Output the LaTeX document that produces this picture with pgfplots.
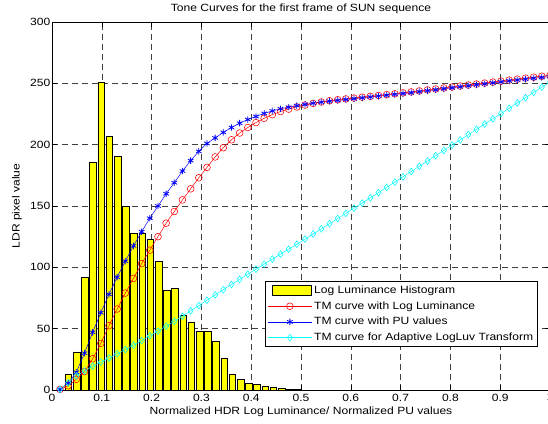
\documentclass[border=0pt]{standalone}
\usepackage{fontspec}
\setmainfont{Liberation Sans}[FakeStretch=1.15]
\usepackage{pgfplots}
\pgfplotsset{compat=1.18}
\definecolor{mred}{RGB}{255,0,0}
\definecolor{mblue}{RGB}{0,0,255}
\definecolor{mcyan}{RGB}{0,255,255}
\definecolor{myellow}{RGB}{255,255,0}
\pgfplotsset{
  linelegend/.style={legend image code/.code={\draw[mark repeat=2,mark phase=2,##1] plot coordinates {(0pt,0pt) (22pt,0pt) (44pt,0pt)};}},
  barlegend/.style={legend image code/.code={\draw[##1] (4pt,-5pt) rectangle (43pt,5pt);}},
}
\begin{document}
\fontsize{10.5}{12}\selectfont
\begin{tikzpicture}
\begin{axis}[name=ax, scale only axis, width=498pt, height=368pt,
  xmin=0, xmax=1, ymin=0, ymax=300,
  xtick={0,0.1,0.2,0.3,0.4,0.5,0.6,0.7,0.8,0.9,1},
  xticklabels={0,0.1,0.2,0.3,0.4,0.5,0.6,0.7,0.8,0.9,1},
  ytick={0,50,100,150,200,250,300},
  yticklabels={0,50,100,150,200,250,300},
  grid=major,
  major grid style={black!75, dash pattern=on 6pt off 4pt, line width=0.5pt},
  axis line style={black, line width=0.6pt},
  tick style={black, line width=0.5pt}, major tick length=5pt,
  tick align=inside,
  yticklabel style={xshift=2pt},
  title={Tone Curves for the first frame of SUN sequence},
  every axis title/.style={at={(axis description cs:0.5,1.036)}, anchor=center, inner sep=0pt},
  xlabel={Normalized HDR Log Luminance/ Normalized PU values},
  every axis x label/.style={at={(axis description cs:0.5,-0.059)}, anchor=center, inner sep=0pt},
  ylabel={LDR pixel value},
  every axis y label/.style={at={(axis description cs:-0.0703,0.5)}, anchor=center, rotate=90, inner sep=0pt},
  legend style={at={(axis description cs:0.976,0.296)}, anchor=north east, draw=black, line width=0.8pt, fill=white, inner sep=2.5pt, row sep=2.5pt, font=\fontsize{10.5}{11}\selectfont},
  legend cell align=left,
]
\addplot[ybar, bar shift=0pt, bar width=0.0132, fill=myellow, draw=black, line width=0.7pt, barlegend] coordinates {
(0.0329,13) (0.0494,31) (0.0659,91.5) (0.0823,185.5) (0.0988,250.5) (0.1153,207)
(0.1317,190.5) (0.1482,149.5) (0.1647,127.5) (0.1811,127.5) (0.1976,122.5) (0.2141,104.5)
(0.2305,81.5) (0.2470,83) (0.2635,60.5) (0.2800,55.5) (0.2964,47.5) (0.3129,47.5)
(0.3294,39.5) (0.3458,26) (0.3623,12.8) (0.3788,8.7) (0.3952,5.4) (0.4117,4.6)
(0.4282,3.3) (0.4446,2.2) (0.4611,1.4) (0.4776,0.8) (0.4941,0.5)
};
\addlegendentry{Log Luminance Histogram}
\addplot[mred, line width=0.5pt, mark=o, mark size=3.4pt, mark options={line width=0.55pt}, linelegend] coordinates {
(0.016,0.5) (0.0324,3.5) (0.0488,8.7) (0.0652,15) (0.0816,25.5) (0.098,38)
(0.1144,52.5) (0.1308,66) (0.1472,79) (0.1636,91) (0.18,103) (0.1964,114)
(0.2128,125) (0.2292,136) (0.2456,145.5) (0.262,155) (0.2784,164) (0.2948,173)
(0.3112,181.5) (0.3276,190) (0.344,197.5) (0.3604,204) (0.3768,209.5) (0.3932,214)
(0.4096,218) (0.426,221.5) (0.4424,224.5) (0.4588,227) (0.4752,229) (0.4916,230.8)
(0.508,232.3) (0.5244,233.6) (0.5408,234.8) (0.5572,235.8) (0.5736,236.6) (0.59,237.3)
(0.6064,238) (0.6228,238.7) (0.6392,239.4) (0.6556,240.1) (0.672,240.8) (0.6884,241.5)
(0.7048,242.2) (0.7212,243) (0.7376,243.8) (0.754,244.6) (0.7704,245.4) (0.7868,246.2)
(0.8032,247) (0.8196,247.8) (0.836,248.6) (0.8524,249.4) (0.8688,250.2) (0.8852,251)
(0.9016,251.8) (0.918,252.6) (0.9344,253.4) (0.9508,254.2) (0.9672,255) (0.9836,255.8)
(1.0,256.5)
};
\addlegendentry{TM curve with Log Luminance}
\addplot[mblue, line width=0.5pt, mark=asterisk, mark size=3.2pt, mark options={line width=0.8pt}, linelegend] coordinates {
(0.016,0.5) (0.0324,5.5) (0.0488,14.5) (0.0652,30) (0.0816,47) (0.098,63)
(0.1144,78) (0.1308,92) (0.1472,105) (0.1636,117.5) (0.18,129) (0.1964,140)
(0.2128,150) (0.2292,160) (0.2456,169) (0.262,178.5) (0.2784,187) (0.2948,194.5)
(0.3112,201) (0.3276,205.5) (0.344,210) (0.3604,214) (0.3768,217.5) (0.3932,220.5)
(0.4096,223) (0.426,225.5) (0.4424,227.5) (0.4588,229.3) (0.4752,230.5) (0.4916,231.8)
(0.508,232.8) (0.5244,233.8) (0.5408,234.6) (0.5572,235.4) (0.5736,236.1) (0.59,236.8)
(0.6064,237.5) (0.6228,238.2) (0.6392,238.9) (0.6556,239.6) (0.672,240.3) (0.6884,241)
(0.7048,241.7) (0.7212,242.4) (0.7376,243.2) (0.754,244) (0.7704,244.8) (0.7868,245.6)
(0.8032,246.4) (0.8196,247.2) (0.836,248) (0.8524,248.8) (0.8688,249.6) (0.8852,250.4)
(0.9016,251.2) (0.918,252) (0.9344,252.7) (0.9508,253.4) (0.9672,254.1) (0.9836,254.8)
(1.0,255.5)
};
\addlegendentry{TM curve with PU values}
\addplot[mcyan, line width=0.5pt, mark=diamond, mark size=3.4pt, mark options={line width=0.55pt}, linelegend] coordinates {
(0.016,0.5) (0.0324,6) (0.0488,11.5) (0.0652,15.5) (0.0816,19.5) (0.098,22.8)
(0.1144,26) (0.1308,29.5) (0.1472,33) (0.1636,36.5) (0.18,40.3) (0.1964,44.2)
(0.2128,48) (0.2292,52) (0.2456,56) (0.262,60.2) (0.2784,64.5) (0.2948,68.8)
(0.3112,73.2) (0.3276,77.5) (0.344,81.8) (0.3604,86) (0.3768,90.2) (0.3932,94.4)
(0.4096,98.5) (0.426,102.6) (0.4424,106.7) (0.4588,110.8) (0.4752,114.8) (0.4916,118.8)
(0.508,123) (0.5244,127.2) (0.5408,131.4) (0.5572,135.6) (0.5736,139.8) (0.59,144)
(0.6064,148.2) (0.6228,152.4) (0.6392,156.6) (0.6556,160.9) (0.672,165.2) (0.6884,169.5)
(0.7048,173.8) (0.7212,178.1) (0.7376,182.4) (0.754,186.7) (0.7704,191) (0.7868,195.3)
(0.8032,199.6) (0.8196,203.9) (0.836,208.2) (0.8524,212.5) (0.8688,216.8) (0.8852,221.1)
(0.9016,225.4) (0.918,229.7) (0.9344,234) (0.9508,238.3) (0.9672,242.6) (0.9836,246.9)
(1.0,251.2)
};
\addlegendentry{TM curve for Adaptive LogLuv Transform}
\end{axis}
\pgfresetboundingbox
\path[use as bounding box] ([xshift=-52pt,yshift=-33pt]ax.south west) rectangle ([xshift=-2pt,yshift=22pt]ax.north east);
\end{tikzpicture}
\end{document}
